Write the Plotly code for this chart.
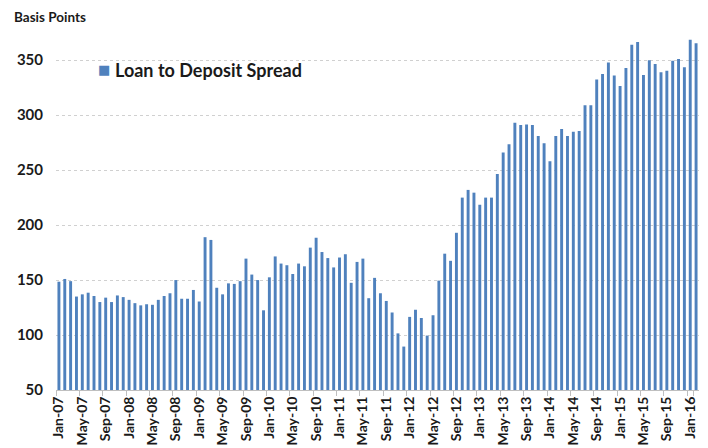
import plotly.graph_objects as go

months = ["Jan", "Feb", "Mar", "Apr", "May", "Jun", "Jul", "Aug", "Sep", "Oct", "Nov", "Dec"]
years = ["07", "08", "09", "10", "11", "12", "13", "14", "15", "16"]
categories = [f"{m}-{y}" for y in years for m in months][:110]

spread = [
    148.5, 151, 149, 135, 137, 138.5, 135.5, 130, 134, 130, 136, 134.5,
    132, 129, 127, 128, 127.5, 132, 135.5, 138, 150, 133, 133, 141,
    130.5, 189, 186.5, 143, 137, 147, 146.5, 149, 169.5, 155, 150, 122.5,
    152.5, 171.5, 165, 163.5, 155.5, 165, 162.5, 179.5, 188.5, 175.5, 170, 161.5,
    170.5, 173.5, 147.5, 166.5, 169.5, 133.5, 152, 138, 131, 120.5, 101.5, 89.5,
    116.5, 123, 115.5, 99.5, 118, 149.5, 174, 167.5, 193, 225, 232, 229.5,
    218.5, 225, 225, 246.5, 266, 273.5, 293, 291, 291.5, 291, 281, 274.5,
    258, 281, 287.5, 281, 285, 285.5, 309, 309, 332.5, 337.5, 348, 336,
    326.5, 343, 364, 366.5, 336.5, 350, 346.5, 339, 340.5, 349.5, 351, 343.5,
    368.5, 365.5,
]

series_name = "Loan to Deposit Spread"
bar_color = "#4F81BD"
tick_labels = categories[::4]
y_ticks = [50, 100, 150, 200, 250, 300, 350]

font_family = "Lato, 'Open Sans', sans-serif"

fig = go.Figure()
fig.add_trace(go.Bar(
    x=categories,
    y=spread,
    name=series_name,
    marker=dict(color=bar_color, line=dict(width=0)),
    showlegend=False,
))

# page body has an 8px default margin, so the figure is sized 700x440
fig.update_layout(
    width=700,
    height=440,
    margin=dict(l=48, r=9, t=28, b=58, autoexpand=False),
    paper_bgcolor="white",
    plot_bgcolor="white",
    bargap=0.5,
    font=dict(family=font_family, color="#1a1a1a"),
    showlegend=False,
    xaxis=dict(
        type="category",
        automargin=False,
        tickmode="array",
        tickvals=tick_labels,
        ticktext=tick_labels,
        tickangle=-90,
        tickfont=dict(size=14, weight="bold", family=font_family, color="#1a1a1a"),
        ticks="outside",
        tickson="boundaries",
        ticklen=5,
        tickcolor="#bfbfbf",
        showline=True,
        linecolor="#bfbfbf",
        linewidth=1,
        showgrid=False,
        range=[-0.5, 109.5],
    ),
    yaxis=dict(
        automargin=False,
        range=[50, 372],
        tickmode="array",
        tickvals=y_ticks,
        ticktext=[str(v) for v in y_ticks],
        tickfont=dict(size=15, weight="bold", family=font_family, color="#1a1a1a"),
        showgrid=True,
        gridcolor="#d0d0d0",
        griddash="dot",
        gridwidth=1,
        zeroline=False,
        showline=False,
        ticks="",
        ticklabelstandoff=12,
    ),
    annotations=[
        dict(
            text="<b>Basis Points</b>",
            xref="paper", yref="paper",
            x=-0.068, y=1.054,
            xanchor="left", yanchor="middle",
            showarrow=False,
            font=dict(size=13.5, family=font_family, color="#1a1a1a"),
        ),
        dict(
            text="■",
            xref="paper", yref="paper",
            x=0.062, y=0.904,
            xanchor="left", yanchor="middle",
            showarrow=False,
            font=dict(size=13, family="DejaVu Sans", color=bar_color),
        ),
        dict(
            text=f"<b>{series_name}</b>",
            xref="paper", yref="paper",
            x=0.088, y=0.904,
            xanchor="left", yanchor="middle",
            showarrow=False,
            font=dict(size=18, family=font_family, color="#1a1a1a"),
        ),
    ],
)

fig.write_html("out.html")
